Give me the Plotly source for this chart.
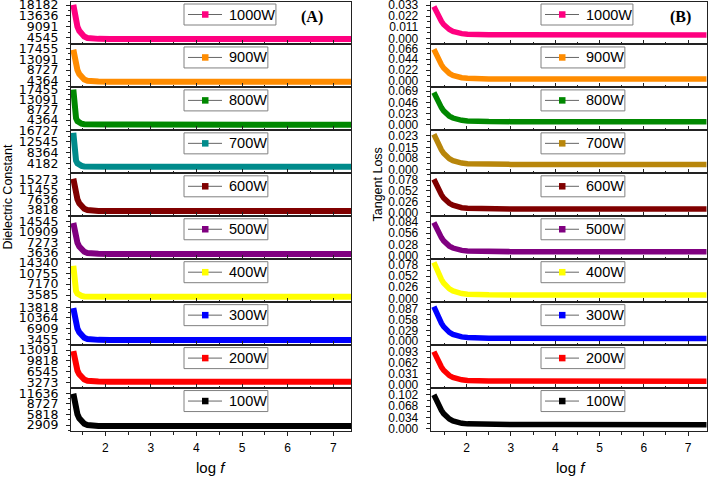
import plotly.graph_objects as go

# ---------------- data ----------------
powers = ['1000W', '900W', '800W', '700W', '600W', '500W', '400W', '300W', '200W', '100W']

x_left = [1.30, 1.32, 1.34, 1.36, 1.39, 1.43, 1.48, 1.54, 1.61, 1.70, 1.85, 2.10, 2.60, 3.50, 4.50, 5.50, 6.50, 7.40]
x_right = [1.26, 1.30, 1.34, 1.38, 1.43, 1.48, 1.54, 1.61, 1.69, 1.78, 1.89, 2.02, 2.20, 2.50, 3.00, 4.00, 5.00, 6.00, 7.00, 7.42]

# Dielectric constant (panel A)
eps_1000W = [18300, 16155, 13295, 11150, 9148, 7432, 6002, 5001, 4429, 4172, 4057, 4014, 4000, 4000, 3995, 3990, 3988, 3985]
eps_900W = [16900, 14980, 12420, 10500, 8708, 7172, 5892, 4996, 4484, 4254, 4151, 4113, 4100, 4098, 4095, 4092, 4090, 4088]
eps_800W = [17400, 10650, 6900, 5100, 3900, 3150, 2775, 2550, 2460, 2415, 2405, 2400, 2398, 2395, 2393, 2390, 2388, 2386]
eps_700W = [16000, 10083, 6795, 5217, 4165, 3508, 3179, 2982, 2903, 2863, 2855, 2850, 2848, 2846, 2844, 2842, 2840, 2838]
eps_600W = [15500, 13691, 11279, 9470, 7782, 6334, 5128, 4284, 3802, 3585, 3488, 3452, 3440, 3438, 3436, 3434, 3432, 3430]
eps_500W = [14100, 12465, 10285, 8650, 7124, 5816, 4726, 3963, 3527, 3331, 3244, 3211, 3200, 3198, 3196, 3194, 3192, 3190]
eps_400W = [13200, 8624, 6081, 4861, 4047, 3539, 3284, 3132, 3071, 3040, 3034, 3030, 3028, 3026, 3025, 3023, 3022, 3020]
eps_300W = [13590, 12036, 9964, 8410, 6960, 5716, 4680, 3955, 3541, 3354, 3271, 3240, 3230, 3228, 3226, 3224, 3222, 3220]
eps_200W = [12790, 11407, 9563, 8180, 6889, 5783, 4861, 4215, 3847, 3681, 3607, 3579, 3570, 3568, 3566, 3564, 3562, 3560]
eps_100W = [11530, 10195, 8415, 7080, 5834, 4766, 3876, 3253, 2897, 2737, 2666, 2639, 2630, 2628, 2626, 2624, 2622, 2620]

# Tangent loss (panel B)
tan_1000W = [0.0315, 0.0276, 0.0236, 0.0202, 0.0168, 0.0137, 0.0109, 0.0087, 0.0068, 0.0055, 0.0046, 0.0040, 0.0036, 0.0034, 0.0034, 0.0033, 0.0033, 0.0032, 0.0032, 0.0032]
tan_900W = [0.0642, 0.0558, 0.0473, 0.0401, 0.0329, 0.0263, 0.0203, 0.0154, 0.0115, 0.0087, 0.0067, 0.0055, 0.0047, 0.0043, 0.0041, 0.0040, 0.0040, 0.0039, 0.0039, 0.0039]
tan_800W = [0.0660, 0.0577, 0.0494, 0.0423, 0.0352, 0.0286, 0.0227, 0.0180, 0.0141, 0.0113, 0.0094, 0.0082, 0.0074, 0.0070, 0.0068, 0.0067, 0.0067, 0.0066, 0.0066, 0.0066]
tan_700W = [0.0240, 0.0211, 0.0182, 0.0158, 0.0133, 0.0110, 0.0090, 0.0073, 0.0060, 0.0050, 0.0043, 0.0039, 0.0037, 0.0035, 0.0034, 0.0034, 0.0034, 0.0034, 0.0033, 0.0033]
tan_600W = [0.0799, 0.0698, 0.0598, 0.0511, 0.0425, 0.0346, 0.0274, 0.0217, 0.0170, 0.0136, 0.0112, 0.0098, 0.0089, 0.0084, 0.0081, 0.0080, 0.0080, 0.0079, 0.0079, 0.0079]
tan_500W = [0.0820, 0.0719, 0.0618, 0.0532, 0.0445, 0.0366, 0.0294, 0.0236, 0.0189, 0.0155, 0.0131, 0.0117, 0.0108, 0.0103, 0.0100, 0.0099, 0.0099, 0.0098, 0.0098, 0.0098]
tan_400W = [0.0839, 0.0733, 0.0626, 0.0534, 0.0443, 0.0359, 0.0283, 0.0222, 0.0172, 0.0136, 0.0111, 0.0096, 0.0086, 0.0081, 0.0079, 0.0077, 0.0077, 0.0076, 0.0076, 0.0076]
tan_300W = [0.0938, 0.0817, 0.0696, 0.0592, 0.0489, 0.0394, 0.0307, 0.0238, 0.0182, 0.0141, 0.0113, 0.0096, 0.0084, 0.0078, 0.0076, 0.0074, 0.0074, 0.0073, 0.0073, 0.0073]
tan_200W = [0.0935, 0.0817, 0.0700, 0.0599, 0.0498, 0.0406, 0.0322, 0.0255, 0.0200, 0.0161, 0.0133, 0.0116, 0.0105, 0.0099, 0.0097, 0.0095, 0.0095, 0.0094, 0.0094, 0.0094]
tan_100W = [0.1017, 0.0892, 0.0766, 0.0659, 0.0552, 0.0453, 0.0364, 0.0292, 0.0234, 0.0192, 0.0162, 0.0144, 0.0133, 0.0126, 0.0124, 0.0122, 0.0122, 0.0121, 0.0121, 0.0121]

# tick labels
eps_ticks_1000W = ['4545', '9091', '13636', '18182']
eps_ticks_900W = ['4364', '8727', '13091', '17455']
eps_ticks_800W = ['4364', '8727', '13091', '17455']
eps_ticks_700W = ['4182', '8364', '12545', '16727']
eps_ticks_600W = ['3818', '7636', '11455', '15273']
eps_ticks_500W = ['3636', '7273', '10909', '14545']
eps_ticks_400W = ['3585', '7170', '10755', '14340']
eps_ticks_300W = ['3455', '6909', '10364', '13818']
eps_ticks_200W = ['3273', '6545', '9818', '13091']
eps_ticks_100W = ['2909', '5818', '8727', '11636']

tan_ticks_1000W = ['0.000', '0.011', '0.022', '0.033']
tan_ticks_900W = ['0.000', '0.022', '0.044', '0.066']
tan_ticks_800W = ['0.000', '0.023', '0.046', '0.069']
tan_ticks_700W = ['0.000', '0.008', '0.015', '0.023']
tan_ticks_600W = ['0.000', '0.026', '0.052', '0.078']
tan_ticks_500W = ['0.000', '0.028', '0.056', '0.084']
tan_ticks_400W = ['0.000', '0.026', '0.052', '0.078']
tan_ticks_300W = ['0.000', '0.029', '0.058', '0.087']
tan_ticks_200W = ['0.000', '0.031', '0.062', '0.093']
tan_ticks_100W = ['0.000', '0.034', '0.068', '0.102']

x_tick_vals = [2, 3, 4, 5, 6, 7]

eps_series = [eps_1000W, eps_900W, eps_800W, eps_700W, eps_600W, eps_500W, eps_400W, eps_300W, eps_200W, eps_100W]
tan_series = [tan_1000W, tan_900W, tan_800W, tan_700W, tan_600W, tan_500W, tan_400W, tan_300W, tan_200W, tan_100W]
eps_ticks = [eps_ticks_1000W, eps_ticks_900W, eps_ticks_800W, eps_ticks_700W, eps_ticks_600W,
             eps_ticks_500W, eps_ticks_400W, eps_ticks_300W, eps_ticks_200W, eps_ticks_100W]
tan_ticks = [tan_ticks_1000W, tan_ticks_900W, tan_ticks_800W, tan_ticks_700W, tan_ticks_600W,
             tan_ticks_500W, tan_ticks_400W, tan_ticks_300W, tan_ticks_200W, tan_ticks_100W]

# ---------------- styling / layout ----------------
colors_left = ['#FF0080', '#FF8C00', '#008800', '#008B8B', '#800000', '#800080', '#FFFF00', '#0000FF', '#FF0000', '#000000']
colors_right = ['#FF0080', '#FF8C00', '#008800', '#B8860B', '#800000', '#800080', '#FFFF00', '#0000FF', '#FF0000', '#000000']

eps_ranges = [[1730, 19641], [1802, 18996], [-51, 18265], [299, 16979], [1485, 17512],
              [1348, 16463], [1233, 15360], [1577, 15486], [1667, 14562], [1258, 13081]]
tan_ranges = [[-0.0061, 0.0365], [-0.0129, 0.0738], [-0.0109, 0.0763], [-0.0027, 0.0267], [-0.0095, 0.0942],
              [-0.0087, 0.0975], [-0.0090, 0.0916], [-0.0110, 0.1060], [-0.0100, 0.1120], [-0.0070, 0.1220]]

W, H = 708, 477
N = 10
top_px, bot_px = 1.5, 431.0
ph = (bot_px - top_px) / N
x_dom = [[71 / W, 351 / W], [430.7 / W, 706.7 / W]]
x_rng = [[1.249, 7.39], [1.188, 7.42]]
leg_left_px = [184, 541]
LEG_FS = 14.5
AX = '#222222'
TICKFONT_L = dict(family='DejaVu Sans', size=12.5, color='black')
TICKFONT_R = dict(family='Liberation Sans', size=12, color='black')


def px2x(p):
    return p / W


def px2y(p):
    return 1 - p / H


fig = go.Figure()
layout = {}
shapes = []
annotations = []

for k in range(N):
    pt = top_px + ph * k
    y0 = 1 - (top_px + ph * (k + 1)) / H
    y1 = 1 - pt / H
    for side in (0, 1):
        idx = 2 * k + side + 1
        xa = 'x' if idx == 1 else f'x{idx}'
        ya = 'y' if idx == 1 else f'y{idx}'
        xl = 'xaxis' if idx == 1 else f'xaxis{idx}'
        yl = 'yaxis' if idx == 1 else f'yaxis{idx}'
        if side == 0:
            xs, ys, col = x_left, eps_series[k], colors_left[k]
            labels, rng, tf = eps_ticks[k], eps_ranges[k], TICKFONT_L
            lw = 6
        else:
            xs, ys, col = x_right, tan_series[k], colors_right[k]
            labels, rng, tf = tan_ticks[k], tan_ranges[k], TICKFONT_R
            lw = 5.5
        fig.add_trace(go.Scatter(x=xs, y=ys, mode='lines', line=dict(color=col, width=lw),
                                 xaxis=xa, yaxis=ya, showlegend=False, hoverinfo='skip', name=powers[k]))
        tv = [float(t) for t in labels]
        step = tv[1] - tv[0]
        minor_vals = [tv[0] - step / 2] + [(tv[i] + tv[i + 1]) / 2 for i in range(3)] + [tv[3] + step / 2]
        bottom = (k == N - 1)
        layout[xl] = dict(domain=x_dom[side], range=x_rng[side], anchor=ya,
                          showline=True, mirror=True, linecolor=AX, linewidth=1,
                          ticks='outside' if bottom else 'inside', ticklen=4, tickwidth=1, tickcolor=AX,
                          tickmode='array', tickvals=x_tick_vals, showticklabels=bottom,
                          tickfont=dict(family='Liberation Sans', size=12, color='black'),
                          ticklabeloverflow='allow', ticklabelstandoff=2,
                          minor=dict(ticks='outside' if bottom else 'inside', ticklen=2.5, dtick=0.5,
                                     tick0=0, tickcolor=AX),
                          showgrid=False, zeroline=False, fixedrange=True, automargin=False)
        layout[yl] = dict(domain=[y0, y1], range=rng, anchor=xa,
                          showline=True, mirror=True, linecolor=AX, linewidth=1,
                          ticks='outside', ticklen=4, tickwidth=1, tickcolor=AX,
                          tickmode='array', tickvals=tv, ticktext=labels, tickfont=tf,
                          ticklabeloverflow='allow', ticklabelstandoff=5,
                          minor=dict(ticks='outside', ticklen=2.5, tickmode='array', tickvals=minor_vals,
                                     tickcolor=AX),
                          showgrid=False, zeroline=False, fixedrange=True, automargin=False)

        # legend box (drawn as shapes + text)
        name = powers[k]
        tw = (0.556 * (len(name) - 1) + 0.944) * LEG_FS
        bl = leg_left_px[side]
        br = bl + 43 + tw + 3
        bt = pt + 2.5
        bb = pt + 23.5
        cy = (bt + bb) / 2
        shapes.append(dict(type='rect', xref='paper', yref='paper', x0=px2x(bl), x1=px2x(br),
                           y0=px2y(bb), y1=px2y(bt), line=dict(color='#808080', width=1), fillcolor='white'))
        shapes.append(dict(type='line', xref='paper', yref='paper', x0=px2x(bl + 4), x1=px2x(bl + 38),
                           y0=px2y(cy), y1=px2y(cy), line=dict(color='#666666', width=1)))
        shapes.append(dict(type='rect', xref='paper', yref='paper', x0=px2x(bl + 18), x1=px2x(bl + 24.5),
                           y0=px2y(cy + 3.25), y1=px2y(cy - 3.25), line=dict(width=0), fillcolor=col))
        annotations.append(dict(text=name, x=px2x(bl + 43), y=px2y(cy), xref='paper', yref='paper',
                                xanchor='left', yanchor='middle', showarrow=False,
                                font=dict(family='Liberation Sans', size=LEG_FS, color='black')))


def note(text, xp, yp, size, family='Liberation Sans', angle=0):
    return dict(text=text, x=px2x(xp), y=px2y(yp), xref='paper', yref='paper', showarrow=False,
                xanchor='center', yanchor='middle', textangle=angle,
                font=dict(family=family, size=size, color='black'))


annotations += [
    note('<b>(A)</b>', 312, 17, 16, 'Liberation Serif'),
    note('<b>(B)</b>', 680, 17, 16, 'Liberation Serif'),
    note('Dielectric Constant', 8, 197.5, 12.5, angle=-90),
    note('Tangent Loss', 377, 184.5, 12.5, angle=-90),
    note('log <i>f</i>', 211, 467, 15),
    note('log <i>f</i>', 571, 467, 15),
]

fig.update_layout(width=W, height=H, margin=dict(l=0, r=0, t=0, b=0, pad=0, autoexpand=False),
                  paper_bgcolor='white', plot_bgcolor='white', showlegend=False,
                  shapes=shapes, annotations=annotations, **layout)

fig.write_html('out.html', config=dict(displayModeBar=False),
               post_script="document.body.style.margin='0';document.body.style.padding='0';")
